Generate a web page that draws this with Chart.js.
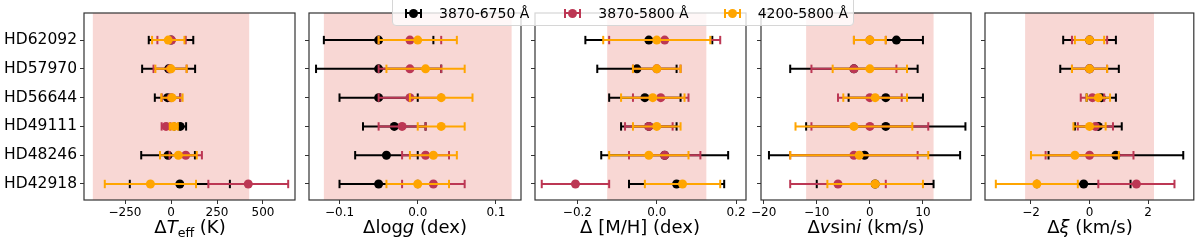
<!DOCTYPE html>
<html>
<head>
<meta charset="utf-8">
<script src="https://cdn.jsdelivr.net/npm/chart.js@4.4.1/dist/chart.umd.min.js"></script>
<style>
    html, body { margin: 0; padding: 0; background: #fff; }
    #wrap { position: relative; width: 1200px; height: 246px; overflow: hidden; font-family: "DejaVu Sans", sans-serif; color: #000; }
    #wrap canvas { position: absolute; left: 0; top: 0; }
    .title { position: absolute; top: 216px; width: 300px; text-align: center; font-size: 18px; line-height: 22px; white-space: nowrap; }
    .title sub { font-size: 70%; line-height: 0; vertical-align: -0.3em; }
    #legend { position: absolute; left: 392px; top: -6px; width: 462px; height: 32px; box-sizing: border-box;
        background: rgba(255,255,255,0.8); border: 1px solid #d6d6d6; border-radius: 4px;
        display: flex; align-items: center; padding: 6px 0 0 12px; font-size: 14px; }
    .item { display: flex; align-items: center; }
    .icon { position: relative; width: 17px; height: 9px; margin-right: 17px; }
    .icon .bar { position: absolute; left: 0; right: 0; top: 3.5px; height: 2px; }
    .icon .cap { position: absolute; top: 0; width: 2px; height: 9px; }
    .icon .dot { position: absolute; left: 4px; top: 0; width: 9px; height: 9px; border-radius: 50%; }
    .item + .item { margin-left: 35px; }
</style>
</head>
<body>
<div id="wrap">
    <canvas id="c0" width="1200" height="246"></canvas>
    <canvas id="c1" width="1200" height="246"></canvas>
    <canvas id="c2" width="1200" height="246"></canvas>
    <canvas id="c3" width="1200" height="246"></canvas>
    <canvas id="c4" width="1200" height="246"></canvas>
    <div class="title" style="left:40px">Δ<i>T</i><sub>eff</sub> (K)</div>
    <div class="title" style="left:265px">Δlog<i>g</i> (dex)</div>
    <div class="title" style="left:490px">Δ [M/H] (dex)</div>
    <div class="title" style="left:716px">Δ<i>v</i>sin<i>i</i> (km/s)</div>
    <div class="title" style="left:940px">Δ<i>ξ</i> (km/s)</div>
    <div id="legend"></div>
</div>
<script>
const stars = ['HD62092', 'HD57970', 'HD56644', 'HD49111', 'HD48246', 'HD42918'];
const seriesNames = ['3870-6750 Å', '3870-5800 Å', '4200-5800 Å'];
const seriesColors = ['#000000', '#bc3754', '#ffa500'];

// Teff (K)
const teffBlack = [0, -13, -19, 50, -16, 48];
const teffBlackErr = [121, 144, 69, 32, 146, 272];
const teffCrimson = [3, -5, 0, -27, 80, 420];
const teffCrimsonErr = [77, 90, 50, 24, 88, 217];
const teffOrange = [-15, 0, 5, 15, 40, -112];
const teffOrangeErr = [88, 85, 58, 22, 100, 248];
const teffTicks = [-250, 0, 250, 500];
const teffTickLabels = ['−250', '0', '250', '500'];

// log g (dex)
const loggBlack = [-0.05, -0.05, -0.05, -0.03, -0.04, -0.05];
const loggBlackErr = [0.07, 0.08, 0.05, 0.04, 0.04, 0.05];
const loggCrimson = [-0.01, -0.01, -0.01, -0.02, 0.01, 0.02];
const loggCrimsonErr = [0.04, 0.04, 0.04, 0.03, 0.03, 0.04];
const loggOrange = [0.0, 0.01, 0.03, 0.03, 0.02, 0.0];
const loggOrangeErr = [0.05, 0.05, 0.04, 0.03, 0.03, 0.04];
const loggTicks = [-0.1, 0.0, 0.1];
const loggTickLabels = ['−0.1', '0.0', '0.1'];

// [M/H] (dex)
const mhBlack = [-0.02, -0.05, -0.03, -0.02, 0.02, 0.05];
const mhBlackErr = [0.16, 0.10, 0.09, 0.07, 0.16, 0.12];
const mhCrimson = [0.02, 0.0, 0.01, -0.02, 0.02, -0.205];
const mhCrimsonErr = [0.14, 0.06, 0.07, 0.06, 0.09, 0.085];
const mhOrange = [0.0, 0.0, -0.01, 0.0, -0.02, 0.065];
const mhOrangeErr = [0.135, 0.06, 0.08, 0.06, 0.10, 0.095];
const mhTicks = [-0.2, 0.0, 0.2];
const mhTickLabels = ['−0.2', '0.0', '0.2'];

// v sin i (km/s)
const vsiniBlack = [5, -3, 3, 3, -1, 1];
const vsiniBlackErr = [5, 12, 7, 15, 18, 11];
const vsiniCrimson = [0, -3, 0, 0, -3, -6];
const vsiniCrimsonErr = [3, 8, 6, 11, 12, 9];
const vsiniOrange = [0, 0, 1, -3, -2, 1];
const vsiniOrangeErr = [3, 7, 6, 11, 13, 9];
const vsiniTicks = [-20, -10, 0, 10];
const vsiniTickLabels = ['−20', '−10', '0', '10'];

// xi (km/s)
const xiBlack = [0, 0, 0.4, 0.3, 0.9, -0.2];
const xiBlackErr = [0.9, 1.0, 0.5, 0.8, 2.3, 1.6];
const xiCrimson = [0, 0, 0.1, 0.2, 0, 1.6];
const xiCrimsonErr = [0.6, 0.6, 0.4, 0.6, 1.5, 1.3];
const xiOrange = [0, 0, 0.3, 0, -0.5, -1.8];
const xiOrangeErr = [0.5, 0.6, 0.4, 0.55, 1.5, 1.4];
const xiTicks = [-2, 0, 2];
const xiTickLabels = ['−2', '0', '2'];

// half widths of the shaded bands
const bands = [425, 0.12, 0.125, 12, 2.2];

const panels = [
    { vals: [teffBlack, teffCrimson, teffOrange], errs: [teffBlackErr, teffCrimsonErr, teffOrangeErr],
      ticks: teffTicks, labels: teffTickLabels, min: -473, max: 674, left: 84, right: 295 },
    { vals: [loggBlack, loggCrimson, loggOrange], errs: [loggBlackErr, loggCrimsonErr, loggOrangeErr],
      ticks: loggTicks, labels: loggTickLabels, min: -0.139, max: 0.132, left: 309, right: 521 },
    { vals: [mhBlack, mhCrimson, mhOrange], errs: [mhBlackErr, mhCrimsonErr, mhOrangeErr],
      ticks: mhTicks, labels: mhTickLabels, min: -0.307, max: 0.225, left: 535, right: 746 },
    { vals: [vsiniBlack, vsiniCrimson, vsiniOrange], errs: [vsiniBlackErr, vsiniCrimsonErr, vsiniOrangeErr],
      ticks: vsiniTicks, labels: vsiniTickLabels, min: -20.5, max: 19.05, left: 761, right: 971 },
    { vals: [xiBlack, xiCrimson, xiOrange], errs: [xiBlackErr, xiCrimsonErr, xiOrangeErr],
      ticks: xiTicks, labels: xiTickLabels, min: -3.57, max: 3.56, left: 985, right: 1196 }
];

Chart.defaults.font.family = '"DejaVu Sans", sans-serif';
Chart.defaults.color = '#000';

// shaded band below the data, frame on top
const framePlugin = {
    id: 'frame',
    beforeDatasetsDraw(chart, args, opts) {
        const { ctx, chartArea: a, scales: { x } } = chart;
        const x0 = x.getPixelForValue(-opts.band);
        const x1 = x.getPixelForValue(opts.band);
        ctx.save();
        ctx.fillStyle = '#f8d7d4';
        ctx.fillRect(x0, a.top, x1 - x0, a.bottom - a.top);
        ctx.restore();
    },
    afterDraw(chart) {
        const { ctx, chartArea: a } = chart;
        ctx.save();
        ctx.strokeStyle = '#333';
        ctx.lineWidth = 1.2;
        ctx.strokeRect(a.left, a.top, a.right - a.left, a.bottom - a.top);
        ctx.restore();
    }
};

panels.forEach((p, idx) => {
    const yW = idx === 0 ? 84 : 10;
    const datasets = [];
    p.vals.forEach((vals, s) => {
        const errs = p.errs[s];
        const c = seriesColors[s];
        const barData = [];
        vals.forEach((v, i) => {
            const y = stars.length - 1 - i;
            barData.push({ x: v - errs[i], y: y }, { x: v + errs[i], y: y }, { x: v, y: null });
        });
        datasets.push({
            type: 'line',
            label: seriesNames[s],
            data: barData,
            borderColor: c,
            borderWidth: 2,
            spanGaps: false,
            fill: false,
            pointStyle: 'line',
            pointRotation: 90,
            pointRadius: 4.2,
            pointBorderColor: c,
            pointBorderWidth: 2,
            order: 10 - 2 * s
        });
        datasets.push({
            type: 'scatter',
            label: seriesNames[s],
            data: vals.map((v, i) => ({ x: v, y: stars.length - 1 - i })),
            pointRadius: 4.5,
            backgroundColor: c,
            borderColor: c,
            borderWidth: 0,
            order: 9 - 2 * s
        });
    });

    new Chart(document.getElementById('c' + idx), {
        type: 'line',
        data: { datasets },
        plugins: [framePlugin],
        options: {
            responsive: false,
            animation: false,
            events: [],
            layout: { padding: { left: p.left - yW, right: 1200 - p.right, top: 13, bottom: 26 } },
            plugins: {
                legend: { display: false },
                tooltip: { enabled: false },
                frame: { band: bands[idx] }
            },
            scales: {
                x: {
                    type: 'linear',
                    min: p.min,
                    max: p.max,
                    afterBuildTicks: scale => { scale.ticks = p.ticks.map(v => ({ value: v })); },
                    afterFit: scale => { scale.height = 20; },
                    ticks: {
                        callback: (v, i) => p.labels[i],
                        font: { size: 12 },
                        padding: 2,
                        maxRotation: 0,
                        autoSkip: false
                    },
                    grid: { drawOnChartArea: false, drawTicks: true, tickLength: 4, color: '#333' },
                    border: { display: false }
                },
                y: {
                    type: 'linear',
                    min: -0.556,
                    max: 5.94,
                    afterBuildTicks: scale => { scale.ticks = stars.map((n, i) => ({ value: i })); },
                    afterFit: scale => { scale.width = yW; },
                    ticks: {
                        display: idx === 0,
                        callback: v => stars[stars.length - 1 - v],
                        font: { size: 15.5 },
                        padding: 3,
                        autoSkip: false
                    },
                    grid: { drawOnChartArea: false, drawTicks: true, tickLength: 4, color: '#333' },
                    border: { display: false }
                }
            }
        }
    });
});

// legend across the middle panels
const legend = document.getElementById('legend');
seriesNames.forEach((name, s) => {
    const c = seriesColors[s];
    const item = document.createElement('div');
    item.className = 'item';
    item.innerHTML =
        '<span class="icon">' +
        '<span class="bar" style="background:' + c + '"></span>' +
        '<span class="cap" style="left:0;background:' + c + '"></span>' +
        '<span class="cap" style="right:0;background:' + c + '"></span>' +
        '<span class="dot" style="background:' + c + '"></span>' +
        '</span><span>' + name + '</span>';
    legend.appendChild(item);
});
</script>
</body>
</html>
